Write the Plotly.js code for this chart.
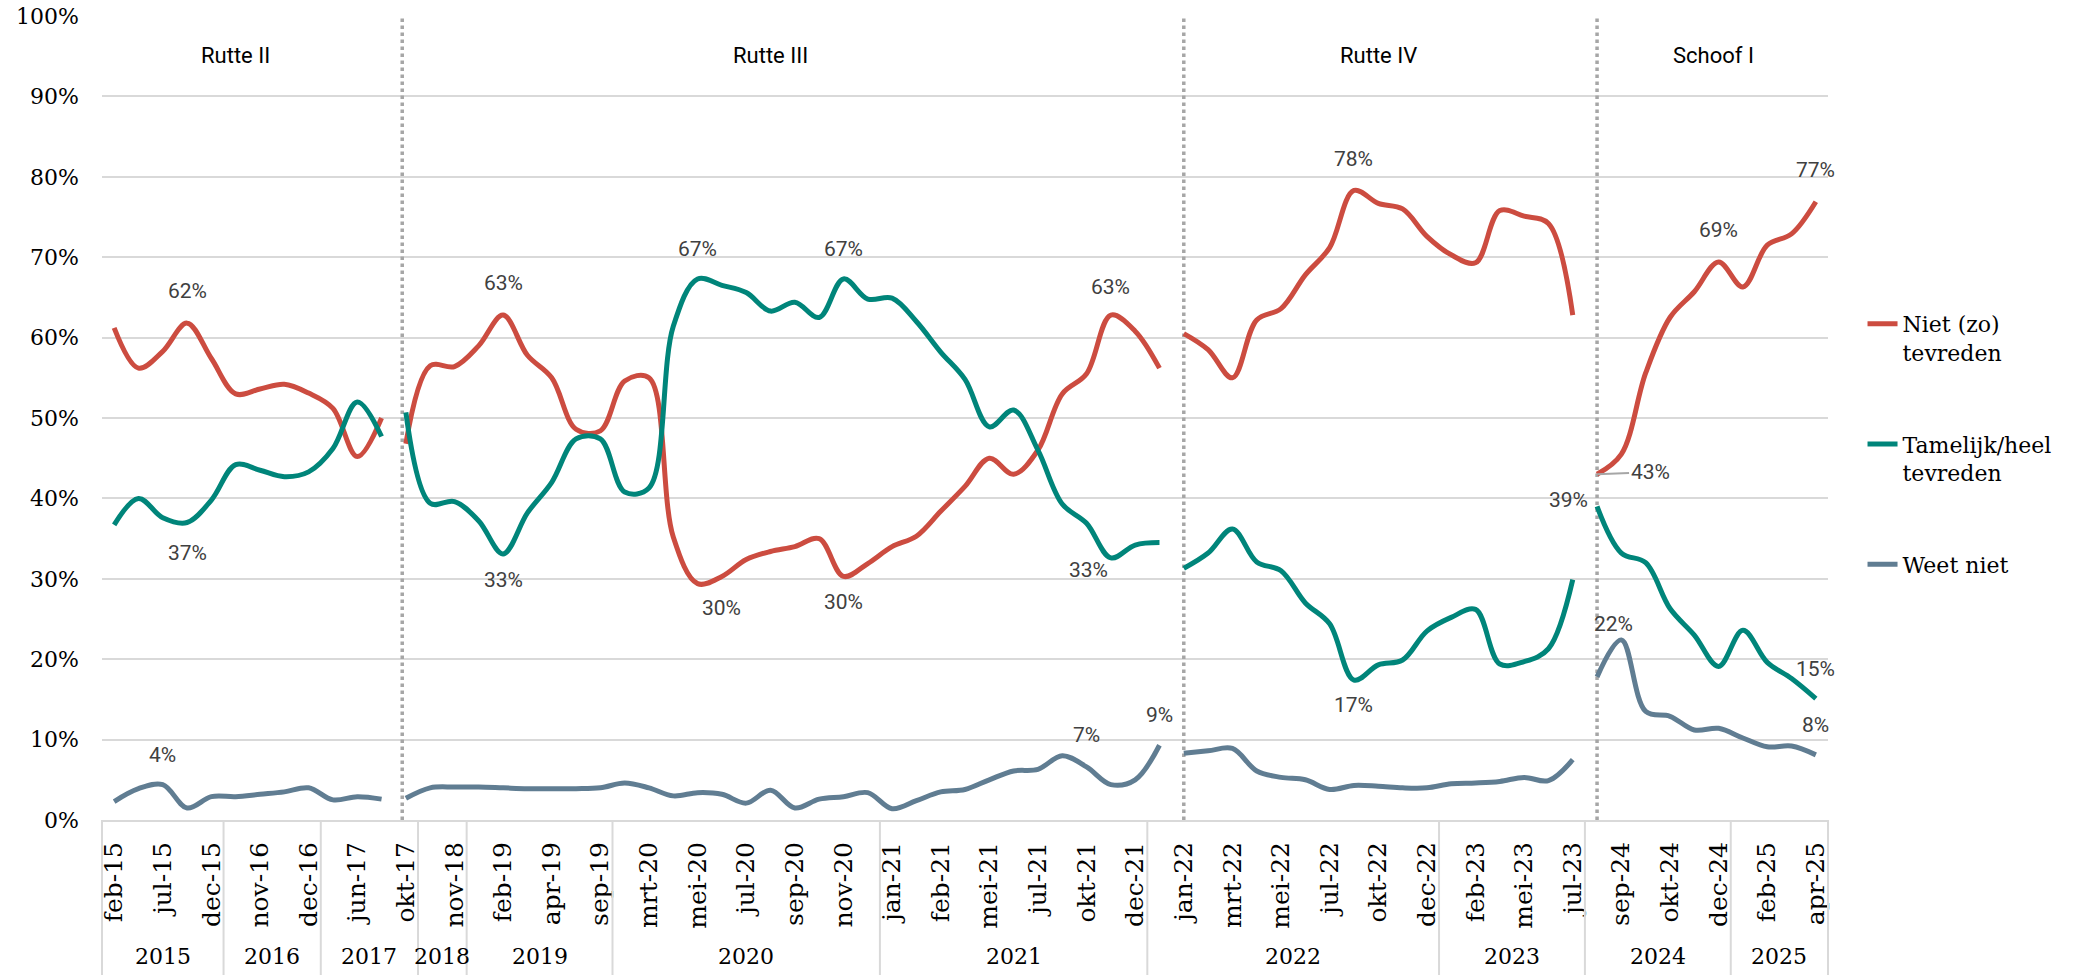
<!DOCTYPE html>
<html>
<head>
<meta charset="utf-8">
<script src="https://cdn.plot.ly/plotly-3.0.1.min.js"></script>
<style>
  html, body { margin: 0; padding: 0; background: #fff; }
  #chart { width: 2074px; height: 975px; }
</style>
</head>
<body>
<div id="chart"></div>
<script>
// Month labels shown on the x axis (every second survey is labelled)
const monthLabels = [
    'feb-15', 'jul-15', 'dec-15', 'nov-16', 'dec-16', 'jun-17', 'okt-17', 'nov-18',
    'feb-19', 'apr-19', 'sep-19', 'mrt-20', 'mei-20', 'jul-20', 'sep-20', 'nov-20',
    'jan-21', 'feb-21', 'mei-21', 'jul-21', 'okt-21', 'dec-21', 'jan-22', 'mrt-22',
    'mei-22', 'jul-22', 'okt-22', 'dec-22', 'feb-23', 'mei-23', 'jul-23', 'sep-24',
    'okt-24', 'dec-24', 'feb-25', 'apr-25'
];

// Number of surveys per year
const years = ['2015', '2016', '2017', '2018', '2019', '2020', '2021', '2022', '2023', '2024', '2025'];
const yearCounts = [5, 4, 4, 2, 6, 11, 11, 12, 6, 6, 4];

// Cabinets and the survey they start at
const cabinets = ['Rutte II', 'Rutte III', 'Rutte IV', 'Schoof I'];
const cabinetStart = [0, 12, 44, 61];

// Series (percent)
const nietTevreden = [
    61.2, 56.2, 58.3, 61.8, 57.4, 53.0, 53.6, 54.2, 53.1, 51.2, 45.2, 50.0,
    46.8, 56.5, 56.4, 59.0, 62.8, 57.8, 55.0, 48.6, 48.4, 54.6, 55.0, 35.2,
    29.4, 30.3, 32.4, 33.4, 34.0, 35.0, 30.3, 31.9, 34.0, 35.3, 38.4, 41.5,
    45.0, 43.0, 46.0, 53.0, 55.5, 62.8, 60.8, 56.2,
    60.5, 58.5, 55.0, 62.2, 63.6, 67.8, 71.2, 78.3, 76.7, 76.0, 72.6, 70.3,
    69.3, 75.8, 75.1, 74.2, 62.8,
    43.0, 45.5, 55.6, 62.5, 65.7, 69.4, 66.3, 71.5, 72.9, 76.9
];
const tamelijkTevreden = [
    36.7, 40.0, 37.6, 37.0, 39.8, 44.2, 43.5, 42.7, 43.3, 46.2, 52.0, 47.7,
    50.7, 39.4, 39.6, 37.2, 33.1, 38.2, 42.0, 47.4, 47.4, 40.8, 41.3, 61.4,
    67.3, 66.5, 65.6, 63.3, 64.4, 62.5, 67.3, 64.8, 64.9, 62.0, 58.2, 54.8,
    48.9, 51.0, 46.0, 39.3, 36.9, 32.6, 34.2, 34.5,
    31.3, 33.2, 36.2, 32.1, 31.0, 27.0, 24.4, 17.4, 19.3, 19.9, 23.5, 25.2,
    26.2, 19.4, 19.7, 21.3, 29.9,
    39.0, 33.2, 32.0, 26.3, 23.0, 19.1, 23.6, 19.6, 17.6, 15.1
];
const weetNiet = [
    2.3, 3.9, 4.4, 1.5, 2.9, 2.9, 3.2, 3.5, 4.0, 2.5, 2.9, 2.6,
    2.7, 4.0, 4.1, 4.1, 4.0, 3.9, 3.9, 3.9, 4.0, 4.6, 4.0, 3.0,
    3.4, 3.2, 2.1, 3.7, 1.5, 2.6, 2.9, 3.4, 1.4, 2.4, 3.5, 3.8,
    5.0, 6.1, 6.3, 8.0, 6.6, 4.4, 5.0, 9.3,
    8.3, 8.6, 8.9, 6.1, 5.3, 5.0, 3.8, 4.3, 4.2, 4.0, 4.0, 4.5,
    4.6, 4.8, 5.3, 4.9, 7.5,
    17.8, 22.4, 13.5, 12.9, 11.2, 11.4, 10.2, 9.1, 9.2, 8.1
];

const series = [
    { name: 'Niet (zo)<br>tevreden', values: nietTevreden, color: '#CC4C40' },
    { name: 'Tamelijk/heel<br>tevreden', values: tamelijkTevreden, color: '#00857A' },
    { name: 'Weet niet', values: weetNiet, color: '#607D92' }
];

// Labelled points: [series index, survey index, xshift, yshift]
const dataLabels = [
    [0, 3, 0, 32], [1, 3, 0, -30], [2, 2, 0, 30],
    [0, 16, 0, 32], [1, 16, 0, -26], [1, 24, 0, 30], [0, 25, 0, -32],
    [1, 30, 0, 30], [0, 30, 0, -26], [0, 41, 0, 28], [1, 41, -22, -12],
    [2, 40, 0, 32], [2, 43, 0, 30],
    [0, 51, 0, 31], [1, 51, 0, -25],
    [1, 61, -29, 6], [2, 62, -8, 16], [0, 66, 0, 32],
    [0, 70, 0, 32], [1, 70, 0, 30], [2, 70, 0, 30]
];

const n = nietTevreden.length;
const xIdx = Array.from({ length: n }, (_, i) => i);

// One trace per series per cabinet, so the lines break at cabinet changes
const traces = [];
series.forEach(s => {
    cabinetStart.forEach((start, k) => {
        const end = k < cabinetStart.length - 1 ? cabinetStart[k + 1] : n;
        traces.push({
            x: xIdx.slice(start, end),
            y: s.values.slice(start, end),
            type: 'scatter',
            mode: 'lines',
            name: s.name,
            legendgroup: s.name,
            showlegend: k === 0,
            line: { color: s.color, width: 5, shape: 'spline', smoothing: 1 },
            hovertemplate: '%{y:.0f}%<extra></extra>'
        });
    });
});

const shapes = [];
const annotations = [];

// Year separators below the axis and year labels
const bottom = -155 / 804;
let pos = 0;
shapes.push({
    type: 'line', xref: 'paper', yref: 'paper', x0: 0, x1: 0, y0: 0, y1: bottom,
    line: { color: '#d9d9d9', width: 2 }
});
years.forEach((yr, k) => {
    const count = yearCounts[k];
    annotations.push({
        x: pos + count / 2 - 0.5, xref: 'x', y: -0.188, yref: 'paper',
        text: yr, showarrow: false,
        font: { family: 'DejaVu Serif', size: 22, color: '#000' }
    });
    pos += count;
    shapes.push({
        type: 'line', xref: 'paper', yref: 'paper', x0: pos / n, x1: pos / n, y0: 0, y1: bottom,
        line: { color: '#d9d9d9', width: 2 }
    });
});

// Cabinet separators and names
const cabinetLabelX = [5, 27, 52, 65.8];
cabinets.forEach((c, k) => {
    if (k > 0) {
        const xs = k === 1 ? cabinetStart[k] - 0.15 : cabinetStart[k];
        shapes.push({
            type: 'line', xref: 'x', yref: 'y', x0: xs, x1: xs, y0: 0, y1: 100,
            layer: 'between',
            line: { color: '#a6a6a6', width: 3.5, dash: 'dot' }
        });
    }
    annotations.push({
        x: cabinetLabelX[k], xref: 'x', y: 95.1, yref: 'y',
        text: c, showarrow: false,
        font: { family: 'Roboto', size: 22, color: '#000' }
    });
});

// Data labels
dataLabels.forEach(([si, i, dx, dy]) => {
    const v = series[si].values[i];
    annotations.push({
        x: i, y: v, xref: 'x', yref: 'y',
        text: Math.round(v) + '%', showarrow: false,
        xshift: dx, yshift: dy,
        font: { family: 'Roboto', size: 21, color: '#404040' }
    });
});

// Leader line for the 43% label
annotations.push({
    x: cabinetStart[3], y: nietTevreden[cabinetStart[3]], xref: 'x', yref: 'y',
    text: Math.round(nietTevreden[cabinetStart[3]]) + '%',
    showarrow: true, arrowhead: 0, arrowwidth: 2, arrowcolor: '#a6a6a6',
    ax: 53, ay: -2, standoff: 0,
    font: { family: 'Roboto', size: 21, color: '#404040' }
});

const layout = {
    width: 2074,
    height: 975,
    margin: { l: 102, r: 246, t: 16, b: 155 },
    paper_bgcolor: 'white',
    plot_bgcolor: 'white',
    showlegend: true,
    legend: {
        x: 1.02, xanchor: 'left',
        y: 0.643, yanchor: 'top',
        valign: 'top',
        tracegroupgap: 60,
        font: { family: 'DejaVu Serif', size: 22, color: '#000' }
    },
    xaxis: {
        range: [-0.5, n - 0.5],
        tickmode: 'array',
        tickvals: monthLabels.map((_, i) => i * 2),
        ticktext: monthLabels,
        tickangle: -90,
        ticks: '',
        ticklabelstandoff: 10,
        tickfont: { family: 'DejaVu Serif', size: 25, color: '#000' },
        showgrid: false,
        zeroline: false,
        showline: true,
        linecolor: '#d9d9d9',
        linewidth: 2,
        fixedrange: true
    },
    yaxis: {
        range: [0, 100],
        dtick: 10,
        ticksuffix: '%',
        ticks: '',
        ticklabelstandoff: 22,
        tickfont: { family: 'DejaVu Serif', size: 22, color: '#000' },
        gridcolor: '#d9d9d9',
        gridwidth: 2,
        zeroline: false,
        fixedrange: true
    },
    shapes: shapes,
    annotations: annotations
};

Plotly.newPlot('chart', traces, layout, { displayModeBar: false, staticPlot: true });
</script>
</body>
</html>
